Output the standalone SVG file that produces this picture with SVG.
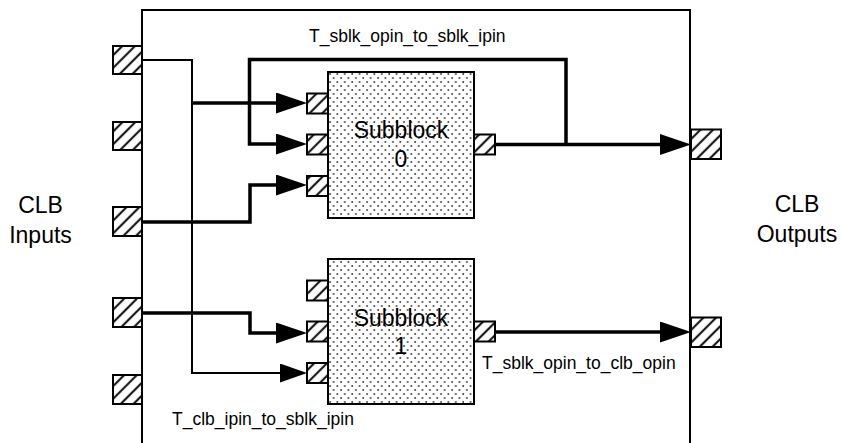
<svg xmlns="http://www.w3.org/2000/svg" width="841" height="443" viewBox="0 0 841 443">
<defs>
<pattern id="hatch" patternUnits="userSpaceOnUse" width="9" height="9" patternTransform="rotate(45)">
<rect width="9" height="9" fill="#ffffff"/>
<line x1="2" y1="0" x2="2" y2="9" stroke="#1a1a1a" stroke-width="2.2"/>
</pattern>
<pattern id="dots" patternUnits="userSpaceOnUse" x="328" y="72" width="7.4" height="8">
<rect width="7.4" height="8" fill="#ffffff"/>
<circle cx="2" cy="2" r="0.9" fill="#333"/>
<circle cx="5.7" cy="6" r="0.9" fill="#333"/>
</pattern>
<marker id="arrowThick" markerUnits="userSpaceOnUse" markerWidth="31" markerHeight="21" refX="0" refY="10.5" orient="auto">
<path d="M0,0 L31,10.5 L0,21 Z" fill="#000"/>
</marker>
<marker id="arrowThin" markerUnits="userSpaceOnUse" markerWidth="27" markerHeight="19" refX="0" refY="9.5" orient="auto">
<path d="M0,0 L27,9.5 L0,19 Z" fill="#000"/>
</marker>
</defs>
<style>
.big { font-family: "Liberation Sans", Arial, sans-serif; font-size: 23px; fill: #000; }
.small { font-family: "Liberation Sans", Arial, sans-serif; font-size: 17.5px; fill: #000; }
.pin { fill: url(#hatch); stroke: #000; stroke-width: 2; }
.blk { fill: url(#dots); stroke: #000; stroke-width: 2; }
.clb { fill: none; stroke: #000; stroke-width: 2; }
.thick { fill: none; stroke: #000; stroke-width: 3.5; }
.thin { fill: none; stroke: #000; stroke-width: 2; }
</style>
<rect width="841" height="443" fill="#ffffff"/>

<g id="clb">
<rect class="clb" x="142" y="10" width="548" height="450"/>
<text class="big" x="40.5" y="213" text-anchor="middle">CLB</text>
<text class="big" x="40.5" y="243" text-anchor="middle">Inputs</text>
<text class="big" x="797" y="212" text-anchor="middle">CLB</text>
<text class="big" x="797" y="241.5" text-anchor="middle">Outputs</text>
</g>

<g id="clb-inputs">
<rect class="pin" x="113" y="46" width="29" height="28"/>
<rect class="pin" x="113" y="122" width="29" height="28"/>
<rect class="pin" x="113" y="207" width="29" height="29"/>
<rect class="pin" x="113" y="298" width="29" height="29"/>
<rect class="pin" x="113" y="375" width="29" height="29"/>
</g>

<g id="clb-outputs">
<rect class="pin" x="691" y="129.5" width="30" height="29.5"/>
<rect class="pin" x="691" y="317.5" width="30" height="29.5"/>
</g>

<g id="subblock0">
<rect class="blk" x="328" y="72" width="146" height="146"/>
<rect class="pin" x="307" y="93.5" width="21" height="20"/>
<rect class="pin" x="307" y="134.5" width="21" height="20"/>
<rect class="pin" x="307" y="176" width="21" height="20"/>
<rect class="pin" x="474" y="134.5" width="21" height="20"/>
<text class="big" x="401" y="138" text-anchor="middle">Subblock</text>
<text class="big" x="401" y="166.5" text-anchor="middle">0</text>
</g>

<g id="subblock1">
<rect class="blk" x="328" y="259" width="146" height="145"/>
<rect class="pin" x="307" y="280.5" width="21" height="20"/>
<rect class="pin" x="307" y="321.5" width="21" height="20"/>
<rect class="pin" x="307" y="363" width="21" height="20"/>
<rect class="pin" x="474" y="321.5" width="21" height="20"/>
<text class="big" x="401" y="326" text-anchor="middle">Subblock</text>
<text class="big" x="401" y="354" text-anchor="middle">1</text>
</g>

<g id="connectors">
<path class="thin" d="M142,60 H192 V373 H280" marker-end="url(#arrowThin)"/>
<path class="thick" d="M192,103 H276" marker-end="url(#arrowThick)"/>
<path class="thick" d="M142,222 H250 V185 H276" marker-end="url(#arrowThick)"/>
<path class="thick" d="M142,313 H250 V333 H276" marker-end="url(#arrowThick)"/>
<path class="thick" d="M495,144.5 H660" marker-end="url(#arrowThick)"/>
<path class="thick" d="M566,144.5 V59.5 H249.5 V144 H276" marker-end="url(#arrowThick)"/>
<path class="thick" d="M495,332 H660" marker-end="url(#arrowThick)"/>
<text class="small" x="309" y="41.5">T_sblk_opin_to_sblk_ipin</text>
<text class="small" x="482" y="369">T_sblk_opin_to_clb_opin</text>
<text class="small" x="172" y="425">T_clb_ipin_to_sblk_ipin</text>
</g>
</svg>
